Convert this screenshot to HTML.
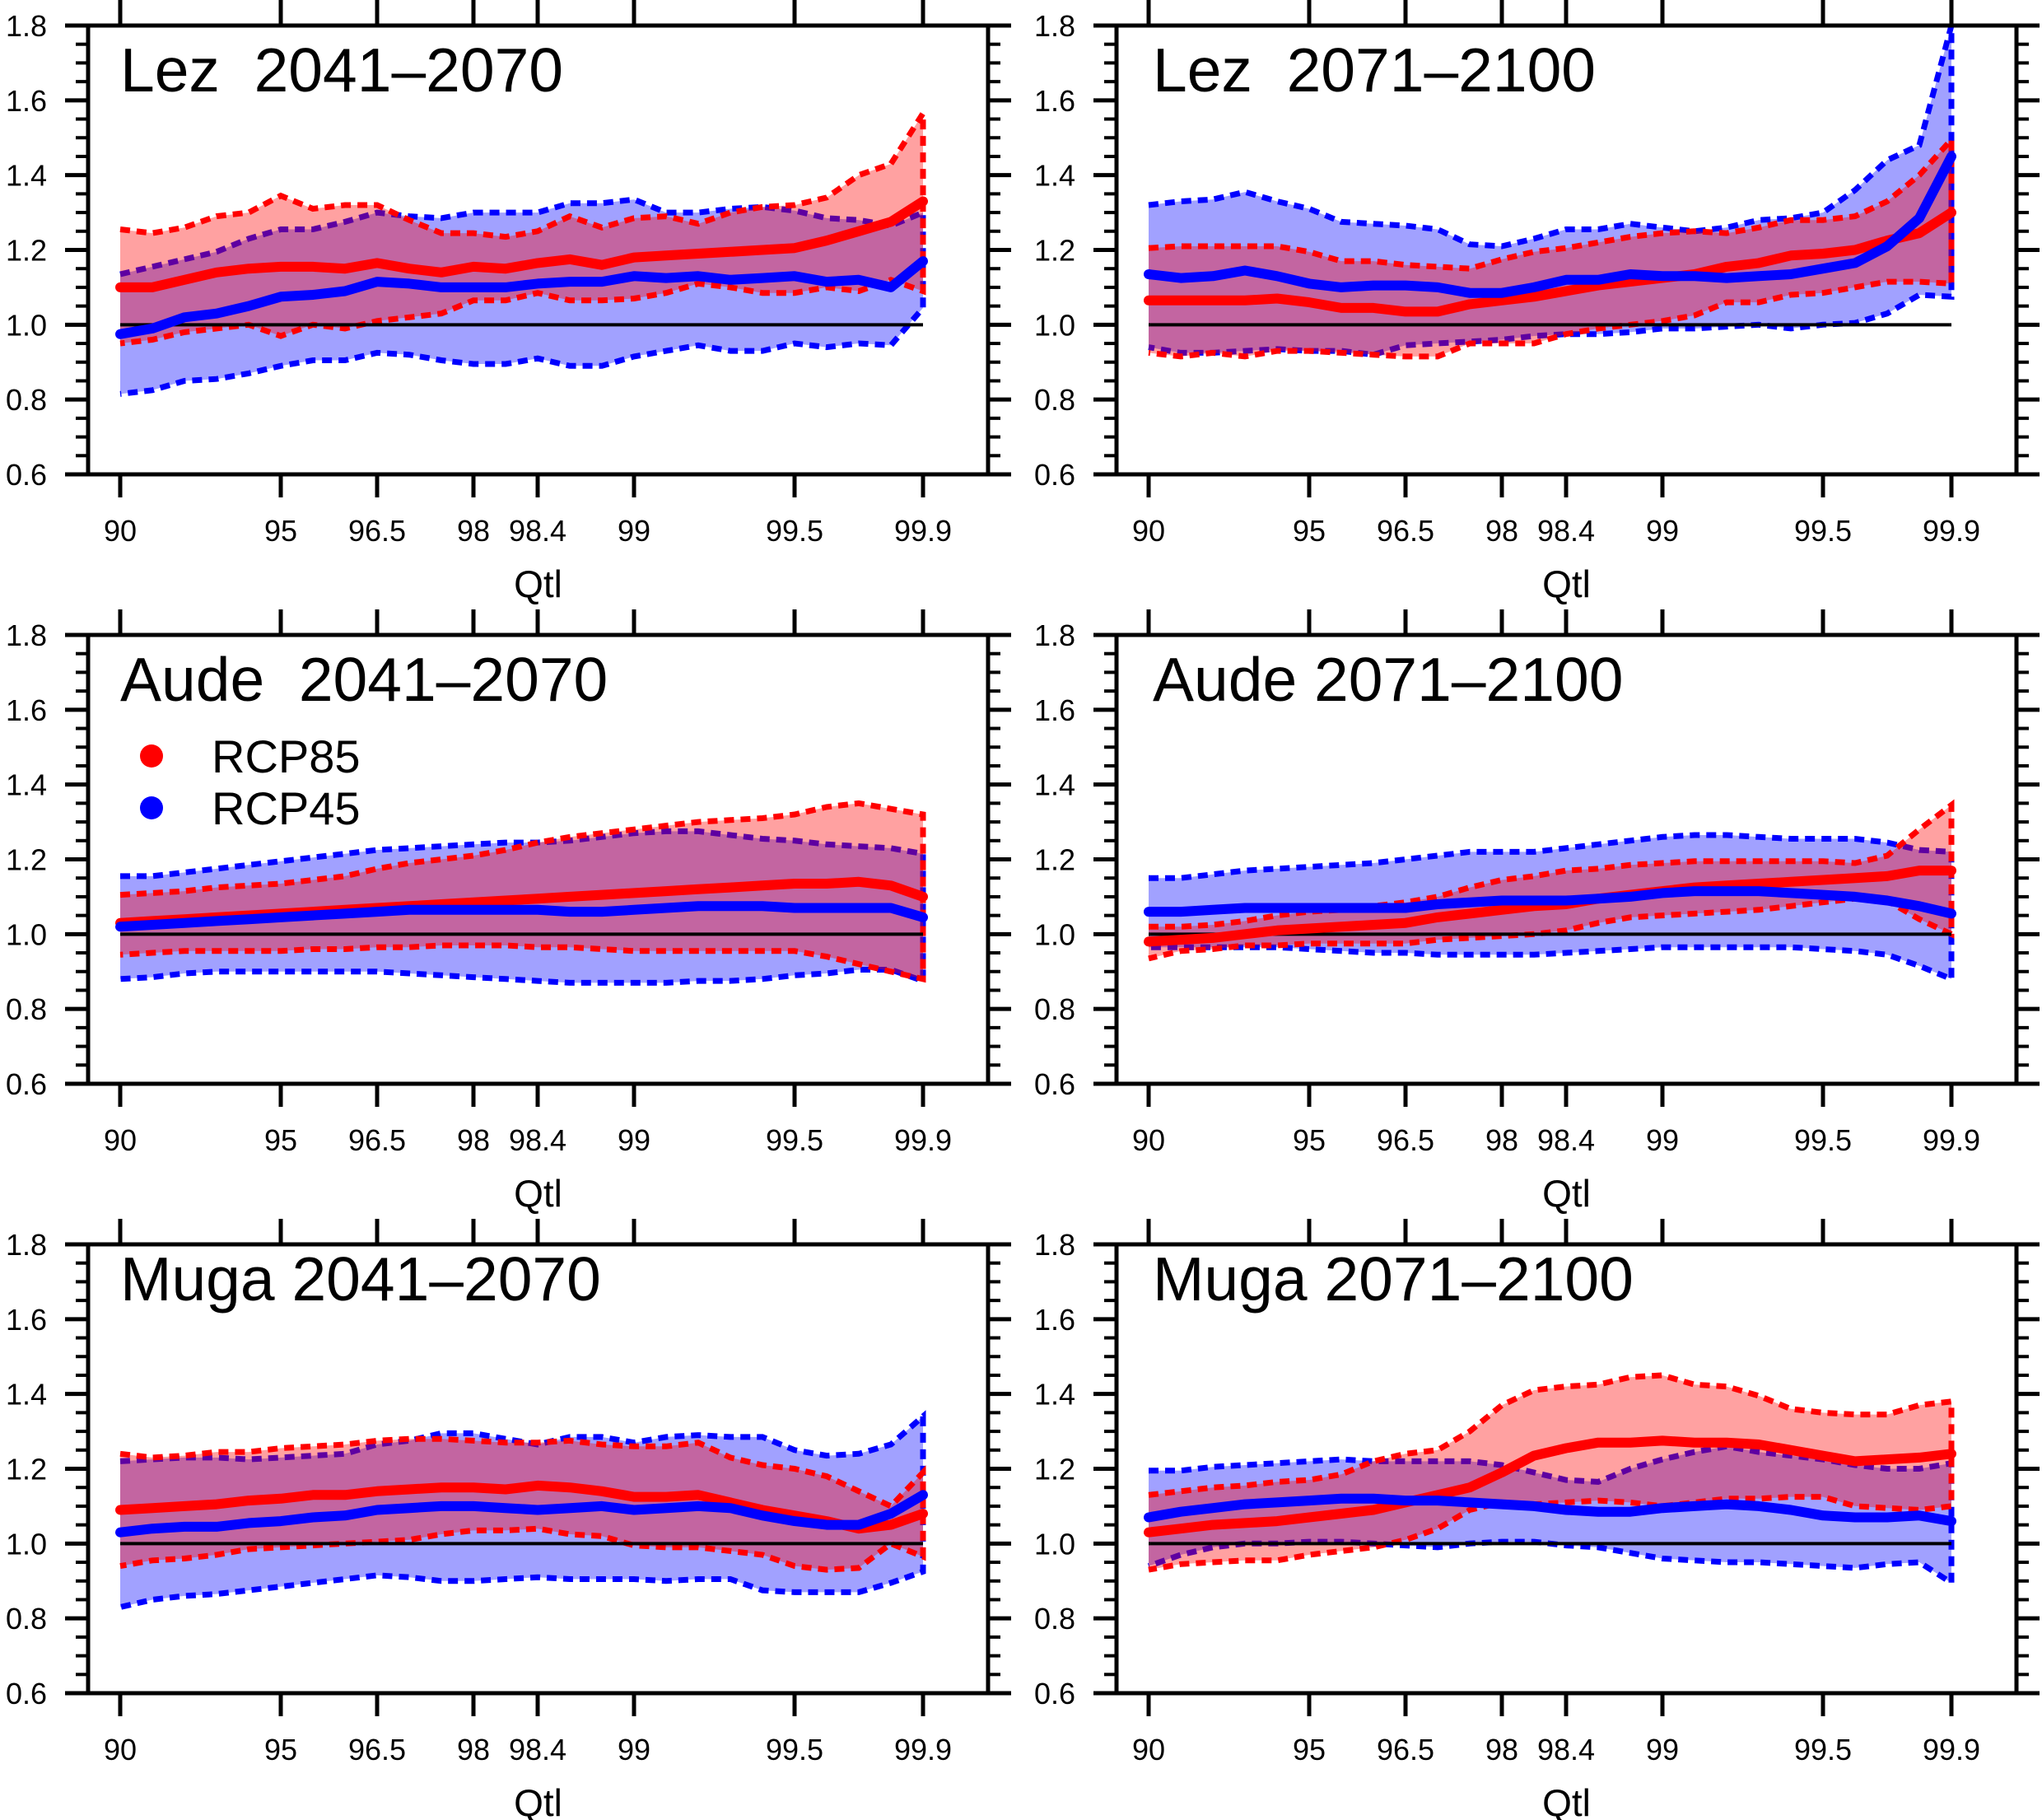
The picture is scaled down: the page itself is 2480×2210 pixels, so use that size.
<!DOCTYPE html>
<html><head><meta charset="utf-8"><style>
html,body{margin:0;padding:0;background:#fff;}
svg{display:block;}
text{font-family:"Liberation Sans",Arial,sans-serif;fill:#000;}
</style></head><body>
<svg id="fig" xmlns="http://www.w3.org/2000/svg" width="2480" height="2210" viewBox="0 0 2480 2210"></svg>
<script>
// categories (index positions along x), labelled ticks
const tickIdx = [0,5,8,11,13,16,21,25];
const tickLabels = ["90","95","96.5","98","98.4","99","99.5","99.9"];
const yTicks = [0.6,0.8,1.0,1.2,1.4,1.6,1.8];
const yTickLabels = ["0.6","0.8","1.0","1.2","1.4","1.6","1.8"];

// Lez 2041-2070
const lez1_r85_mean=[1.10,1.10,1.12,1.14,1.15,1.155,1.155,1.15,1.165,1.15,1.14,1.155,1.15,1.165,1.175,1.16,1.18,1.185,1.19,1.195,1.20,1.205,1.225,1.25,1.275,1.33];
const lez1_r85_hi=[1.255,1.245,1.26,1.29,1.30,1.345,1.31,1.32,1.32,1.28,1.245,1.245,1.235,1.25,1.29,1.26,1.285,1.29,1.27,1.30,1.315,1.32,1.34,1.40,1.43,1.565];
const lez1_r85_lo=[0.95,0.96,0.98,0.99,1.00,0.97,1.00,0.99,1.01,1.02,1.03,1.065,1.065,1.085,1.065,1.065,1.07,1.085,1.11,1.10,1.085,1.085,1.10,1.09,1.12,1.09];
const lez1_r45_mean=[0.975,0.99,1.02,1.03,1.05,1.075,1.08,1.09,1.115,1.11,1.10,1.10,1.10,1.11,1.115,1.115,1.13,1.125,1.13,1.12,1.125,1.13,1.115,1.12,1.10,1.17];
const lez1_r45_hi=[1.135,1.155,1.175,1.195,1.23,1.255,1.255,1.275,1.30,1.29,1.285,1.30,1.30,1.30,1.325,1.325,1.335,1.30,1.30,1.31,1.315,1.305,1.285,1.28,1.265,1.30];
const lez1_r45_lo=[0.815,0.825,0.85,0.855,0.87,0.89,0.905,0.905,0.925,0.92,0.905,0.895,0.895,0.91,0.89,0.89,0.915,0.93,0.945,0.93,0.93,0.95,0.94,0.95,0.945,1.045];
// Lez 2071-2100
const lez2_r85_mean=[1.065,1.065,1.065,1.065,1.07,1.06,1.045,1.045,1.035,1.035,1.055,1.065,1.075,1.09,1.105,1.115,1.125,1.135,1.155,1.165,1.185,1.19,1.20,1.225,1.245,1.30];
const lez2_r85_hi=[1.205,1.21,1.21,1.21,1.21,1.195,1.17,1.17,1.16,1.155,1.15,1.175,1.195,1.205,1.22,1.235,1.245,1.25,1.245,1.26,1.28,1.28,1.29,1.33,1.40,1.495];
const lez2_r85_lo=[0.925,0.915,0.925,0.915,0.93,0.93,0.925,0.92,0.915,0.915,0.95,0.95,0.95,0.975,0.99,1.00,1.01,1.025,1.06,1.06,1.08,1.085,1.10,1.115,1.115,1.11];
const lez2_r45_mean=[1.135,1.125,1.13,1.145,1.13,1.11,1.10,1.105,1.105,1.10,1.085,1.085,1.10,1.12,1.12,1.135,1.13,1.13,1.125,1.13,1.135,1.15,1.165,1.21,1.285,1.45];
const lez2_r45_hi=[1.32,1.33,1.335,1.355,1.33,1.31,1.275,1.27,1.265,1.255,1.215,1.21,1.23,1.255,1.255,1.27,1.26,1.25,1.26,1.28,1.285,1.30,1.36,1.44,1.48,1.80];
const lez2_r45_lo=[0.94,0.925,0.925,0.93,0.935,0.93,0.93,0.92,0.945,0.95,0.955,0.96,0.97,0.975,0.975,0.98,0.99,0.99,0.995,1.00,0.99,1.00,1.005,1.03,1.08,1.075];
// Aude 2041-2070
const aude1_r85_mean=[1.03,1.035,1.04,1.045,1.05,1.055,1.06,1.065,1.07,1.075,1.08,1.085,1.09,1.095,1.10,1.105,1.11,1.115,1.12,1.125,1.13,1.135,1.135,1.14,1.13,1.10];
const aude1_r85_hi=[1.105,1.11,1.115,1.125,1.13,1.135,1.145,1.155,1.175,1.19,1.20,1.21,1.225,1.245,1.26,1.27,1.28,1.29,1.30,1.305,1.31,1.32,1.34,1.35,1.335,1.32];
const aude1_r85_lo=[0.945,0.95,0.955,0.955,0.955,0.955,0.96,0.96,0.965,0.965,0.97,0.97,0.97,0.965,0.965,0.96,0.955,0.955,0.955,0.955,0.955,0.955,0.94,0.92,0.90,0.88];
const aude1_r45_mean=[1.02,1.025,1.03,1.035,1.04,1.045,1.05,1.055,1.06,1.065,1.065,1.065,1.065,1.065,1.06,1.06,1.065,1.07,1.075,1.075,1.075,1.07,1.07,1.07,1.07,1.045];
const aude1_r45_hi=[1.155,1.155,1.165,1.175,1.185,1.195,1.205,1.215,1.225,1.23,1.235,1.24,1.245,1.245,1.25,1.26,1.27,1.275,1.275,1.265,1.255,1.25,1.24,1.235,1.23,1.215];
const aude1_r45_lo=[0.88,0.885,0.895,0.90,0.90,0.90,0.90,0.90,0.90,0.895,0.89,0.885,0.88,0.875,0.87,0.87,0.87,0.87,0.875,0.875,0.88,0.89,0.895,0.905,0.905,0.875];
// Aude 2071-2100
const aude2_r85_mean=[0.98,0.985,0.99,1.00,1.01,1.015,1.02,1.025,1.03,1.045,1.055,1.065,1.075,1.08,1.095,1.105,1.115,1.125,1.13,1.135,1.14,1.145,1.15,1.155,1.17,1.17];
const aude2_r85_hi=[1.02,1.02,1.025,1.035,1.05,1.06,1.065,1.075,1.085,1.10,1.125,1.145,1.155,1.17,1.175,1.185,1.19,1.195,1.195,1.195,1.195,1.195,1.19,1.21,1.28,1.345];
const aude2_r85_lo=[0.935,0.955,0.96,0.97,0.97,0.975,0.975,0.975,0.975,0.985,0.99,0.995,1.00,1.01,1.03,1.045,1.05,1.055,1.06,1.065,1.075,1.085,1.095,1.09,1.04,1.00];
const aude2_r45_mean=[1.06,1.06,1.065,1.07,1.07,1.07,1.07,1.07,1.07,1.08,1.085,1.09,1.09,1.09,1.095,1.10,1.11,1.115,1.115,1.115,1.11,1.105,1.10,1.09,1.075,1.055];
const aude2_r45_hi=[1.15,1.15,1.16,1.17,1.175,1.18,1.185,1.19,1.20,1.21,1.22,1.22,1.22,1.23,1.24,1.25,1.26,1.265,1.265,1.26,1.255,1.255,1.255,1.245,1.225,1.22];
const aude2_r45_lo=[0.965,0.965,0.965,0.965,0.965,0.96,0.955,0.95,0.95,0.945,0.945,0.945,0.945,0.95,0.955,0.96,0.965,0.965,0.965,0.965,0.965,0.96,0.955,0.945,0.915,0.88];
// Muga 2041-2070
const muga1_r85_mean=[1.09,1.095,1.10,1.105,1.115,1.12,1.13,1.13,1.14,1.145,1.15,1.15,1.145,1.155,1.15,1.14,1.125,1.125,1.13,1.11,1.09,1.075,1.06,1.04,1.05,1.08];
const muga1_r85_hi=[1.24,1.23,1.235,1.245,1.245,1.255,1.26,1.265,1.275,1.28,1.28,1.275,1.27,1.27,1.275,1.265,1.26,1.26,1.27,1.23,1.21,1.20,1.18,1.14,1.10,1.19];
const muga1_r85_lo=[0.94,0.955,0.96,0.97,0.985,0.99,0.995,1.00,1.005,1.01,1.025,1.035,1.035,1.04,1.025,1.02,0.995,0.99,0.99,0.98,0.97,0.94,0.93,0.935,1.00,0.965];
const muga1_r45_mean=[1.03,1.04,1.045,1.045,1.055,1.06,1.07,1.075,1.09,1.095,1.10,1.10,1.095,1.09,1.095,1.10,1.09,1.095,1.10,1.095,1.075,1.06,1.05,1.05,1.08,1.13];
const muga1_r45_hi=[1.22,1.225,1.23,1.23,1.225,1.23,1.235,1.24,1.265,1.275,1.295,1.295,1.28,1.265,1.285,1.285,1.27,1.285,1.29,1.285,1.285,1.25,1.235,1.24,1.265,1.34];
const muga1_r45_lo=[0.83,0.85,0.86,0.865,0.875,0.885,0.895,0.905,0.915,0.91,0.90,0.90,0.905,0.91,0.905,0.905,0.905,0.90,0.905,0.905,0.875,0.87,0.87,0.87,0.895,0.925];
// Muga 2071-2100
const muga2_r85_mean=[1.03,1.04,1.05,1.055,1.06,1.07,1.08,1.09,1.11,1.13,1.15,1.19,1.235,1.255,1.27,1.27,1.275,1.27,1.27,1.265,1.25,1.235,1.22,1.225,1.23,1.24];
const muga2_r85_hi=[1.13,1.14,1.15,1.155,1.165,1.17,1.185,1.22,1.24,1.25,1.30,1.37,1.41,1.42,1.425,1.445,1.45,1.425,1.42,1.395,1.36,1.35,1.345,1.345,1.37,1.38];
const muga2_r85_lo=[0.93,0.945,0.95,0.955,0.955,0.97,0.98,0.99,1.01,1.04,1.09,1.11,1.105,1.11,1.115,1.11,1.10,1.11,1.12,1.12,1.125,1.125,1.10,1.095,1.09,1.10];
const muga2_r45_mean=[1.07,1.085,1.095,1.105,1.11,1.115,1.12,1.12,1.115,1.115,1.11,1.105,1.10,1.09,1.085,1.085,1.095,1.10,1.105,1.10,1.09,1.075,1.07,1.07,1.075,1.06];
const muga2_r45_hi=[1.195,1.195,1.205,1.21,1.215,1.22,1.225,1.22,1.22,1.22,1.22,1.21,1.19,1.17,1.165,1.20,1.225,1.245,1.26,1.245,1.235,1.225,1.21,1.20,1.20,1.215];
const muga2_r45_lo=[0.94,0.97,0.99,1.00,1.00,1.005,1.005,1.00,0.995,0.99,1.00,1.005,1.005,0.995,0.99,0.975,0.96,0.955,0.95,0.95,0.945,0.94,0.935,0.945,0.95,0.895];

const panels = [
 {name:"lez-2041-2070", title:"Lez  2041\u20132070", col:0, row:0, tdy:80, r:[lez1_r85_mean,lez1_r85_hi,lez1_r85_lo], b:[lez1_r45_mean,lez1_r45_hi,lez1_r45_lo]},
 {name:"lez-2071-2100", title:"Lez  2071\u20132100", col:1, row:0, tdy:80, r:[lez2_r85_mean,lez2_r85_hi,lez2_r85_lo], b:[lez2_r45_mean,lez2_r45_hi,lez2_r45_lo]},
 {name:"aude-2041-2070", title:"Aude  2041\u20132070", col:0, row:1, tdy:80, r:[aude1_r85_mean,aude1_r85_hi,aude1_r85_lo], b:[aude1_r45_mean,aude1_r45_hi,aude1_r45_lo], legend:true},
 {name:"aude-2071-2100", title:"Aude 2071\u20132100", col:1, row:1, tdy:80, r:[aude2_r85_mean,aude2_r85_hi,aude2_r85_lo], b:[aude2_r45_mean,aude2_r45_hi,aude2_r45_lo]},
 {name:"muga-2041-2070", title:"Muga 2041\u20132070", col:0, row:2, tdy:68, r:[muga1_r85_mean,muga1_r85_hi,muga1_r85_lo], b:[muga1_r45_mean,muga1_r45_hi,muga1_r45_lo]},
 {name:"muga-2071-2100", title:"Muga 2071\u20132100", col:1, row:2, tdy:68, r:[muga2_r85_mean,muga2_r85_hi,muga2_r85_lo], b:[muga2_r45_mean,muga2_r45_hi,muga2_r45_lo]}
];

const NS="http://www.w3.org/2000/svg";
const fig=document.getElementById('fig');
function mk(tag,attrs,parent){const e=document.createElementNS(NS,tag);for(const k in attrs)e.setAttribute(k,attrs[k]);parent.appendChild(e);return e;}

const colLeft=[107,1356], rowTop=[31,771,1511], FW=1093, FH=545, DX0=39, DX1=1014;

panels.forEach(p=>{
  const L=colLeft[p.col], T=rowTop[p.row], B=T+FH, R=L+FW;
  const g=mk('g',{},fig);
  
  
  const xs=i=>L+DX0+(DX1-DX0)*i/25;
  const ys=v=>T+(1.8-v)/1.2*FH;
  const line=arr=>arr.map((v,i)=>(i?'L':'M')+xs(i).toFixed(1)+' '+ys(v).toFixed(1)).join(' ');
  const band=(hi,lo)=>{let d=hi.map((v,i)=>(i?'L':'M')+xs(i).toFixed(1)+' '+ys(v).toFixed(1)).join(' ');
    for(let i=lo.length-1;i>=0;i--) d+=' L'+xs(i).toFixed(1)+' '+ys(lo[i]).toFixed(1); return d;};
  const bf=mk('path',{d:band(p.b[1],p.b[2]),fill:'#0000ff','fill-opacity':0.37,stroke:'none'},g);
  
  
  const bd=mk('path',{d:band(p.b[1],p.b[2]),fill:'none',stroke:'#0000ff','stroke-width':7,'stroke-dasharray':'12 8'},g);
  
  
  const rf=mk('path',{d:band(p.r[1],p.r[2]),fill:'#ff0000','fill-opacity':0.37,stroke:'none'},g);
  
  
  const rd=mk('path',{d:band(p.r[1],p.r[2]),fill:'none',stroke:'#ff0000','stroke-width':7,'stroke-dasharray':'12 8'},g);
  
  
  const ref=mk('line',{x1:xs(0),x2:xs(25),y1:ys(1.0),y2:ys(1.0),stroke:'#000','stroke-width':4},g);
  
  
  const rm=mk('path',{d:line(p.r[0]),fill:'none',stroke:'#ff0000','stroke-width':12,'stroke-linejoin':'round','stroke-linecap':'round'},g);
  
  
  const bm=mk('path',{d:line(p.b[0]),fill:'none',stroke:'#0000ff','stroke-width':12,'stroke-linejoin':'round','stroke-linecap':'round'},g);
  
  
  const fr=mk('rect',{x:L,y:T,width:FW,height:FH,fill:'none',stroke:'#000','stroke-width':5},g);
  
  
  for(let k=0;k<=24;k++){
    const v=0.6+k*0.05, y=ys(v), major=(k%4===0);
    const len=major?28:15;
    mk('line',{x1:L-len,x2:L,y1:y,y2:y,stroke:'#000','stroke-width':major?5:4},g);
    mk('line',{x1:R,x2:R+len,y1:y,y2:y,stroke:'#000','stroke-width':major?5:4},g);
  }
  yTicks.forEach((v,i)=>{
    const t=mk('text',{x:L-50,y:ys(v)+13,'font-size':36,'text-anchor':'end'},g);
    t.textContent=yTickLabels[i];
    
    
  });
  tickIdx.forEach((idx,i)=>{
    const x=xs(idx);
    mk('line',{x1:x,x2:x,y1:B,y2:B+28,stroke:'#000','stroke-width':5},g);
    mk('line',{x1:x,x2:x,y1:T-31,y2:T,stroke:'#000','stroke-width':5},g);
    const t=mk('text',{x:x,y:B+81,'font-size':36,'text-anchor':'middle'},g);
    t.textContent=tickLabels[i];
    
    
  });
  const xt=mk('text',{x:(L+R)/2,y:B+149,'font-size':46,'text-anchor':'middle'},g);
  xt.textContent='Qtl';
  
  
  const tt=mk('text',{x:L+DX0+(p.col?5:0),y:T+p.tdy,'font-size':75},g);
  tt.setAttribute('style','white-space:pre');
  tt.textContent=p.title;
  
  
  if(p.legend){
    const lg=mk('g',{},g);
    
    
    [['#ff0000','RCP85',T+147],['#0000ff','RCP45',T+210]].forEach(e=>{
      const c=mk('ellipse',{cx:L+77,cy:e[2],rx:14,ry:14,fill:e[0]},lg);
      
      
      const t=mk('text',{x:L+150,y:e[2]+20,'font-size':56},lg);
      t.textContent=e[1];
      
      
    });
  }
});
</script>
</body></html>
